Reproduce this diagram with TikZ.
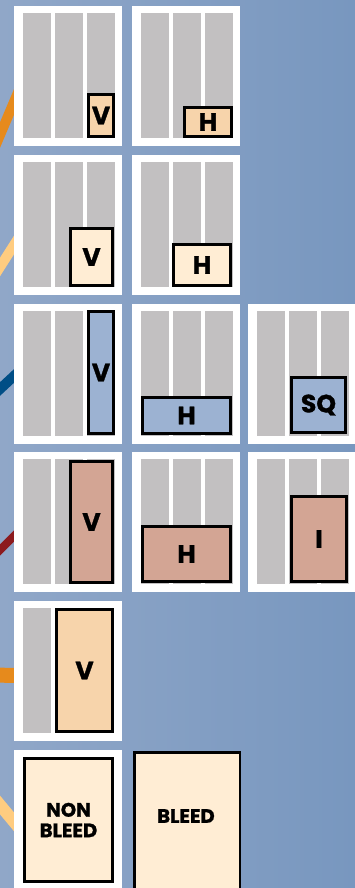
\documentclass[tikz,border=0pt]{standalone}
\usepackage{fontspec}
\newfontfamily\lab{Poppins}[BoldFeatures={FakeBold=1.2}]
\definecolor{bgL}{HTML}{90A7C8}
\definecolor{bgR}{HTML}{7897BF}
\definecolor{colgray}{HTML}{C2C0C1}
\definecolor{fOr}{HTML}{F7D4AB}
\definecolor{fCr}{HTML}{FFEDD4}
\definecolor{fBl}{HTML}{9CB2D2}
\definecolor{fRo}{HTML}{D3A594}
\definecolor{lOr}{HTML}{E68A1C}
\definecolor{lLo}{HTML}{FFCC80}
\definecolor{lBl}{HTML}{004E86}
\definecolor{lRd}{HTML}{8C1A1E}
\tikzset{
  pagebox/.style={fill=white,draw=none,minimum width=108pt,minimum height=140pt,inner sep=0pt},
  adbox/.style={draw=black,line width=2.8pt,inner sep=0pt},
  big/.style={font=\lab\bfseries\fontsize{25}{25}\selectfont},
  small/.style={font=\lab\bfseries\fontsize{19.5}{20.5}\selectfont,align=center},
  fan/.style={line width=10pt}
}
% page with three columns: name, left x, top y
\newcommand\pgthree[3]{%
  \node[pagebox] (#1) at ({#2+54},{#3+70}) {};
  \fill[colgray] ({#2+9},{#3+7}) rectangle ({#2+37},{#3+132});
  \fill[colgray] ({#2+41},{#3+7}) rectangle ({#2+69},{#3+132});
  \fill[colgray] ({#2+73},{#3+7}) rectangle ({#2+101},{#3+132});
}
\begin{document}
\begin{tikzpicture}[x=1pt,y=-1pt]
\useasboundingbox (0,0) rectangle (355,888);
\clip (0,0) rectangle (355,888);
\shade[left color=bgL,right color=bgR] (0,0) rectangle (355,888);
% fan lines
\draw[fan,lOr] (-10,158.6) -- (20,87.8);
\draw[fan,lLo] (-10,282.7) -- (20,235.6);
\draw[fan,lBl] (-10,398.3) -- (20,370.4);
\draw[fan,lRd,line width=8pt] (-10,560) -- (20,530);
\draw[fan,lOr,line width=15pt] (-10,675) -- (20,675.5);
\draw[fan,lLo,line width=12pt] (-10,793) -- (20,829);
% row 1
\pgthree{p11}{14}{6}
\pgthree{p12}{132}{6}
\node[adbox,fill=fOr,minimum width=25.5pt,minimum height=42.5pt,big] (v1) at (101,115.5) {V};
\node[adbox,fill=fOr,minimum width=47.5pt,minimum height=29.5pt,big] (h1) at (208,122) {H};
% row 2
\pgthree{p21}{14}{155}
\pgthree{p22}{132}{155}
\node[adbox,fill=fCr,minimum width=42.5pt,minimum height=57.5pt,big] (v2) at (91.5,257) {V};
\node[adbox,fill=fCr,minimum width=56.5pt,minimum height=41.5pt,big] (h2) at (202,265) {H};
% row 3
\pgthree{p31}{14}{304}
\pgthree{p32}{132}{304}
\pgthree{p33}{248}{304}
\node[adbox,fill=fBl,minimum width=25.5pt,minimum height=122.5pt,big] (v3) at (101,372.5) {V};
\node[adbox,fill=fBl,minimum width=88.5pt,minimum height=36.5pt,big] (h3) at (186.5,415.5) {H};
\node[adbox,fill=fBl,minimum width=54.5pt,minimum height=55.5pt,big] (sq3) at (318.5,405) {SQ};
% row 4
\pgthree{p41}{14}{452}
\pgthree{p42}{132}{452}
\pgthree{p43}{248}{452}
\node[adbox,fill=fRo,minimum width=42.5pt,minimum height=121.5pt,big] (v4) at (91.5,522) {V};
\node[adbox,fill=fRo,minimum width=88.5pt,minimum height=55.5pt,big] (h4) at (186.5,554) {H};
\node[adbox,fill=fRo,minimum width=55.5pt,minimum height=85.5pt,big] (i4) at (319,539) {I};
% row 5
\node[pagebox] (p51) at (68,671) {};
\fill[colgray] (23,608) rectangle (51,733);
\node[adbox,fill=fOr,minimum width=56.5pt,minimum height=122.5pt,big] (v5) at (84.5,670.5) {V};
% row 6
\node[pagebox,minimum height=150pt] (p61) at (68,825) {};
\node[adbox,fill=fCr,minimum width=88.5pt,minimum height=123.5pt,small] (nb) at (68.5,820) {NON\\BLEED};
\node[adbox,fill=fCr,minimum width=105.5pt,minimum height=150pt,anchor=north west] (bl) at (133,751) {};
\node[small] (blt) at (186,816) {BLEED};
\end{tikzpicture}
\end{document}
